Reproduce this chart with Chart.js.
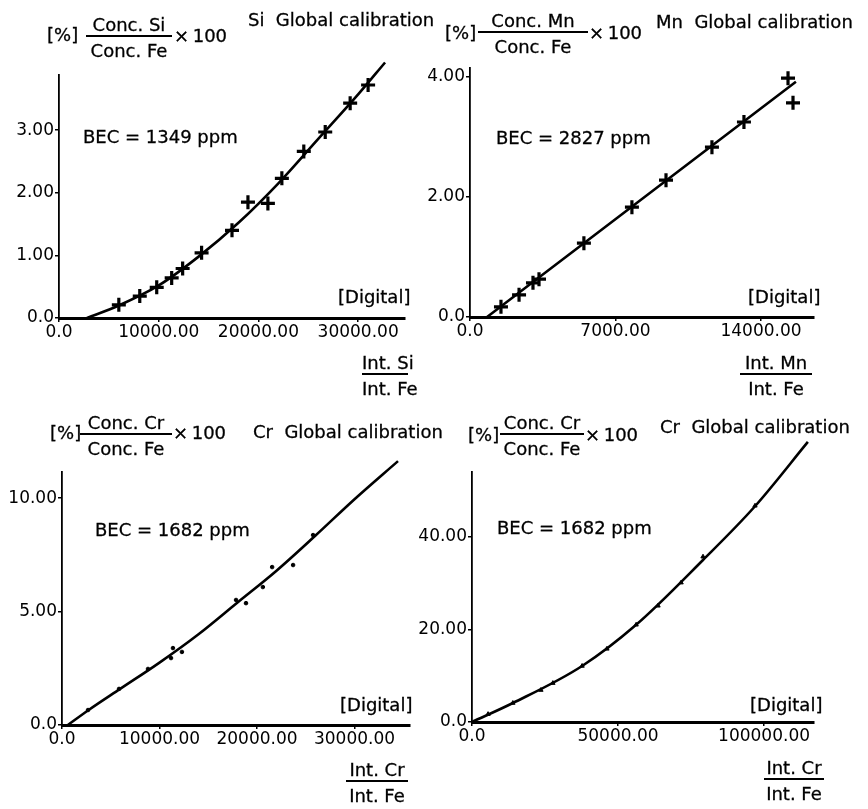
<!DOCTYPE html>
<html>
<head>
<meta charset="utf-8">
<script src="https://cdn.jsdelivr.net/npm/chart.js@4/dist/chart.umd.min.js"></script>
<style>
  body { margin: 0; background: #fff; }
  #page { position: relative; width: 868px; height: 809px; overflow: hidden; font-family: "DejaVu Sans", sans-serif; color: #000; }
  canvas { position: absolute; }
  .t { position: absolute; font-size: 18px; line-height: 20px; white-space: nowrap; -webkit-text-stroke: 0.3px #000; }
  .frac { position: absolute; text-align: center; font-size: 18px; line-height: 20px; white-space: nowrap; -webkit-text-stroke: 0.3px #000; }
  .frac .n { border-bottom: 2px solid #000; }
  .frac .d { padding-top: 4px; }
</style>
</head>
<body>
<div id="page">
  <canvas id="siChart"></canvas>
  <canvas id="mnChart"></canvas>
  <canvas id="crChart"></canvas>
  <canvas id="cr2Chart"></canvas>

  <!-- Si panel -->
  <div class="t" style="left:47px;top:25px">[%]</div>
  <div class="frac" style="left:86px;top:15px;width:86px"><div class="n">Conc. Si</div><div class="d">Conc. Fe</div></div>
  <div class="t" style="left:174px;top:26px">×&thinsp;100</div>
  <div class="t" style="left:248px;top:10px">Si&nbsp; Global calibration</div>
  <div class="t" style="left:83px;top:127px">BEC = 1349 ppm</div>
  <div class="t" style="left:338px;top:287px">[Digital]</div>
  <div class="frac" style="left:362px;top:353px;width:46px"><div class="n">Int. Si</div><div class="d">Int. Fe</div></div>

  <!-- Mn panel -->
  <div class="t" style="left:445px;top:23px">[%]</div>
  <div class="frac" style="left:478px;top:11px;width:110px"><div class="n">Conc. Mn</div><div class="d">Conc. Fe</div></div>
  <div class="t" style="left:589px;top:23px">×&thinsp;100</div>
  <div class="t" style="left:656px;top:12px">Mn&nbsp; Global calibration</div>
  <div class="t" style="left:496px;top:128px">BEC = 2827 ppm</div>
  <div class="t" style="left:748px;top:287px">[Digital]</div>
  <div class="frac" style="left:740px;top:353px;width:72px"><div class="n">Int. Mn</div><div class="d">Int. Fe</div></div>

  <!-- Cr panel (left) -->
  <div class="t" style="left:50px;top:423px">[%]</div>
  <div class="frac" style="left:80px;top:413px;width:92px"><div class="n">Conc. Cr</div><div class="d">Conc. Fe</div></div>
  <div class="t" style="left:173px;top:423px">×&thinsp;100</div>
  <div class="t" style="left:253px;top:422px">Cr&nbsp; Global calibration</div>
  <div class="t" style="left:95px;top:520px">BEC = 1682 ppm</div>
  <div class="t" style="left:340px;top:695px">[Digital]</div>
  <div class="frac" style="left:346px;top:760px;width:62px"><div class="n">Int. Cr</div><div class="d">Int. Fe</div></div>

  <!-- Cr panel (right) -->
  <div class="t" style="left:468px;top:425px">[%]</div>
  <div class="frac" style="left:500px;top:413px;width:84px"><div class="n">Conc. Cr</div><div class="d">Conc. Fe</div></div>
  <div class="t" style="left:585px;top:425px">×&thinsp;100</div>
  <div class="t" style="left:660px;top:417px">Cr&nbsp; Global calibration</div>
  <div class="t" style="left:497px;top:518px">BEC = 1682 ppm</div>
  <div class="t" style="left:750px;top:695px">[Digital]</div>
  <div class="frac" style="left:764px;top:758px;width:60px"><div class="n">Int. Cr</div><div class="d">Int. Fe</div></div>
</div>

<script>
// Si global calibration
const siX = [6000, 8100, 9800, 11300, 12400, 14300, 17350, 18950, 20950, 22350, 24550, 26700, 29200, 31000];
const siY = [0.21, 0.35, 0.49, 0.64, 0.79, 1.04, 1.40, 1.85, 1.83, 2.23, 2.66, 2.97, 3.43, 3.72];
const siFitX = [2800, 6000, 10000, 14000, 18000, 22000, 26000, 30000, 32700];
const siFitY = [0, 0.2, 0.52, 0.98, 1.52, 2.15, 2.86, 3.57, 4.08];
const siXTicks = [0, 10000, 20000, 30000];
const siXTickLabels = ['0.0', '10000.00', '20000.00', '30000.00'];
const siYTicks = [0, 1, 2, 3];
const siYTickLabels = ['0.0', '1.00', '2.00', '3.00'];

// Mn global calibration
const mnX = [1490, 2360, 3030, 3320, 5480, 7790, 9430, 11640, 13180, 15300, 15540];
const mnY = [0.17, 0.37, 0.57, 0.63, 1.23, 1.83, 2.28, 2.83, 3.25, 3.98, 3.57];
const mnFitX = [820, 15680];
const mnFitY = [0, 3.92];
const mnXTicks = [0, 7000, 14000];
const mnXTickLabels = ['0.0', '7000.00', '14000.00'];
const mnYTicks = [0, 2, 4];
const mnYTickLabels = ['0.0', '2.00', '4.00'];

// Cr global calibration (left)
const crX = [2670, 5850, 8820, 11180, 11380, 12300, 17850, 18870, 20600, 21550, 23700, 25750];
const crY = [0.66, 1.59, 2.47, 2.95, 3.39, 3.22, 5.51, 5.37, 6.08, 6.96, 7.05, 8.37];
const crFitX = [600, 2700, 6000, 10000, 14000, 18000, 22000, 26000, 30000, 34460];
const crFitY = [0, 0.65, 1.6, 2.75, 4.0, 5.4, 6.8, 8.35, 9.95, 11.63];
const crXTicks = [0, 10000, 20000, 30000];
const crXTickLabels = ['0.0', '10000.00', '20000.00', '30000.00'];
const crYTicks = [0, 5, 10];
const crYTickLabels = ['0.0', '5.00', '10.00'];

// Cr global calibration (right)
const cr2X = [5500, 14000, 23600, 27700, 37700, 46200, 56200, 63700, 71600, 79100, 96900, 115000];
const cr2Y = [1.7, 4.1, 6.9, 8.4, 12.1, 15.8, 21.0, 25.1, 30.1, 35.7, 46.7, 60.5];
const cr2FitX = [0, 14000, 37700, 56200, 79100, 96900, 115000];
const cr2FitY = [0, 4.1, 12.1, 21.0, 35.0, 46.6, 60.5];
const cr2XTicks = [0, 50000, 100000];
const cr2XTickLabels = ['0.0', '50000.00', '100000.00'];
const cr2YTicks = [0, 20, 40];
const cr2YTickLabels = ['0.0', '20.00', '40.00'];

const ink = '#000';
const zip = (xs, ys) => xs.map((x, i) => ({ x: x, y: ys[i] }));

function panel(id, area, xMax, yMax, xTicks, xLabels, yTicks, yLabels, datasets) {
     const padL = 60, padT = 40, padR = 20, padB = 34;
     const cv = document.getElementById(id);
     const w = area.r - area.l + padL + padR;
     const h = area.b - area.t + padT + padB;
     cv.width = w; cv.height = h;
     cv.style.left = (area.l - padL) + 'px';
     cv.style.top = (area.t - padT) + 'px';
     cv.style.width = w + 'px'; cv.style.height = h + 'px';

     const tickFont = { family: 'DejaVu Sans', size: 17 };
     new Chart(cv, {
          type: 'scatter',
          data: { datasets: datasets },
          options: {
               responsive: false,
               animation: false,
               devicePixelRatio: 1,
               layout: { padding: { top: padT, right: padR, left: 0, bottom: 0 } },
               plugins: { legend: { display: false }, tooltip: { enabled: false } },
               scales: {
                    x: {
                         type: 'linear', min: 0, max: xMax,
                         afterBuildTicks: s => { s.ticks = xTicks.map(v => ({ value: v })); },
                         afterFit: s => { s.height = padB; },
                         grid: { drawOnChartArea: false, drawTicks: true, tickLength: 4, color: ink, lineWidth: 1.5 },
                         border: { display: true, color: ink, width: 3 },
                         ticks: { color: ink, font: tickFont, padding: 0, maxRotation: 0, autoSkip: false,
                                  callback: (v, i) => xLabels[i] }
                    },
                    y: {
                         type: 'linear', min: 0, max: yMax,
                         afterBuildTicks: s => { s.ticks = yTicks.map(v => ({ value: v })); },
                         afterFit: s => { s.width = padL; },
                         grid: { drawOnChartArea: false, drawTicks: true, tickLength: 4, color: ink, lineWidth: 1.5 },
                         border: { display: true, color: ink, width: 1.8 },
                         ticks: { color: ink, font: tickFont, padding: 1, autoSkip: false,
                                  callback: (v, i) => yLabels[i] }
                    }
               }
          }
     });
}

function fitLine(xs, ys) {
     return { data: zip(xs, ys), showLine: true, pointRadius: 0, borderColor: ink, borderWidth: 2.6,
              cubicInterpolationMode: 'monotone', clip: false };
}

function marks(xs, ys, style, r, bw) {
     return { data: zip(xs, ys), showLine: false, pointStyle: style, pointRadius: r, borderColor: ink,
              backgroundColor: ink, pointBorderWidth: bw, clip: false };
}

panel('siChart', { l: 59, r: 405, t: 75, b: 318 }, 34700, 3.88,
     siXTicks, siXTickLabels, siYTicks, siYTickLabels,
     [fitLine(siFitX, siFitY), marks(siX, siY, 'cross', 7, 3.2)]);

panel('mnChart', { l: 470, r: 814, t: 68, b: 317 }, 16550, 4.15,
     mnXTicks, mnXTickLabels, mnYTicks, mnYTickLabels,
     [fitLine(mnFitX, mnFitY), marks(mnX, mnY, 'cross', 7, 3.2)]);

panel('crChart', { l: 62, r: 410, t: 472, b: 725 }, 35690, 11.15,
     crXTicks, crXTickLabels, crYTicks, crYTickLabels,
     [fitLine(crFitX, crFitY), marks(crX, crY, 'circle', 1.8, 1)]);

panel('cr2Chart', { l: 472, r: 814, t: 472, b: 722 }, 117100, 54,
     cr2XTicks, cr2XTickLabels, cr2YTicks, cr2YTickLabels,
     [fitLine(cr2FitX, cr2FitY), marks(cr2X, cr2Y, 'triangle', 2.5, 1)]);
</script>
</body>
</html>
